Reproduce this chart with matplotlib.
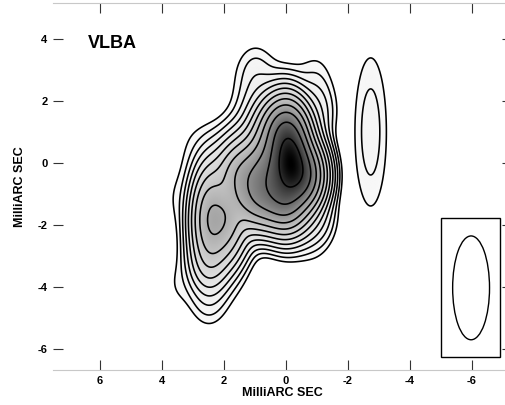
import numpy as np
import matplotlib.pyplot as plt
from matplotlib.colors import PowerNorm
from matplotlib.patches import Rectangle, Ellipse

# clean-component style model of the VLBA map (offsets in mas, flux in units of the lowest contour)
grid_x = [-1.0, -0.5, 0.0, 0.5, 1.0, 1.5, 2.0, 2.5, 3.0, 3.5]
grid_y = [3.1, 2.4, 1.7, 1.0, 0.3, -0.4, -1.1, -1.8, -2.5, -3.2, -3.9, -4.6]
grid_flux = [
    [0.57, 0.24, 0.17, 0.32, 1.7, 0.21, 0.1, 0.26, 0.15, 0.3],
    [1.5, 0.42, 0.43, 0.9, 2.0, 0.24, 0.062, 0.056, 0.056, 0.22],
    [4.5, 3.8, 29, 13, 2.6, 0.38, 0.079, 0.048, 0.063, 0.36],
    [0.89, 21, 914, 90, 6.4, 1.2, 0.31, 0.24, 0.25, 0.15],
    [0.55, 81, 472, 215, 43, 16, 3.4, 0.99, 0.51, 0.11],
    [2.3, 1170, 492, 413, 238, 154, 22, 1.2, 0.36, 0.25],
    [1.8, 56, 694, 383, 272, 54, 32, 2.1, 0.39, 0.67],
    [5.1, 12, 24, 4.1, 4.8, 18, 150, 4.1, 0.33, 0.33],
    [0.48, 0.4, 0.15, 0.085, 0.16, 1.4, 54, 9.2, 0.32, 0.13],
    [0.12, 0.064, 0.031, 0.031, 0.047, 0.22, 4.6, 24, 0.32, 0.15],
    [0.13, 0.071, 0.071, 0.1, 0.09, 0.11, 0.56, 3.3, 0.29, 0.72],
    [0.43, 0.18, 0.17, 0.19, 0.24, 0.08, 0.2, 1.5, 0.14, 0.18],
]
grid_size = (0.34, 0.50)

# compact components: core, eastern knot, isolated western knot
knot_x = [-0.15, 2.45, -2.73]
knot_y = [0.10, -1.80, 1.00]
knot_flux = [1778, 200, 2.85]
knot_sx = [0.30, 0.30, 0.35]
knot_sy = [0.55, 0.80, 1.65]

n_levels = 15  # contours at 1, 2, 4, ... x lowest level

# restoring beam (mas) and its box
beam_x, beam_y = -5.97, -4.03
beam_minor, beam_major = 1.19, 3.35
box_x = [-5.0, -6.9]
box_y = [-1.78, -6.25]

x_ticks = [6, 4, 2, 0, -2, -4, -6]
y_ticks = [4, 2, 0, -2, -4, -6]

xx = np.linspace(-7.3, 7.6, 740)
yy = np.linspace(-6.7, 5.2, 600)
X, Y = np.meshgrid(xx, yy)
Z = np.zeros_like(X)
for i, gyv in enumerate(grid_y):
    for j, gxv in enumerate(grid_x):
        Z += grid_flux[i][j] * np.exp(-0.5 * (((X - gxv) / grid_size[0]) ** 2
                                              + ((Y - gyv) / grid_size[1]) ** 2))
for kx, ky, kf, ksx, ksy in zip(knot_x, knot_y, knot_flux, knot_sx, knot_sy):
    Z += kf * np.exp(-0.5 * (((X - kx) / ksx) ** 2 + ((Y - ky) / ksy) ** 2))

levels = [2.0 ** k for k in range(n_levels)]

fig = plt.figure(figsize=(5.05, 4.05), dpi=100)
ax = fig.add_axes([53 / 505, 35 / 405, 459 / 505, 366.7 / 405])

img = np.ma.masked_less(Z, levels[0])
cmap = plt.get_cmap("gray_r").copy()
cmap.set_bad("white")
ax.imshow(img, extent=(xx[0], xx[-1], yy[0], yy[-1]), origin="lower", cmap=cmap,
          norm=PowerNorm(gamma=0.45, vmin=0, vmax=Z.max()), aspect="auto",
          interpolation="bilinear")
ax.contour(X, Y, Z, levels=levels, colors="k", linewidths=1.15)

ax.add_patch(Rectangle((box_x[0], box_y[1]), box_x[1] - box_x[0], box_y[0] - box_y[1],
                       fill=False, ec="k", lw=1.0))
ax.add_patch(Ellipse((beam_x, beam_y), beam_minor, beam_major, fill=False, ec="k", lw=1.0))

ax.text(6.39, 3.72, "VLBA", fontsize=13, fontweight="bold", family="Liberation Sans",
        ha="left", va="baseline")

ax.set_xlim(7.52, -7.29)
ax.set_ylim(-6.68, 5.15)
ax.set_xticks(x_ticks)
ax.set_yticks(y_ticks)
ax.set_xticklabels([str(v) for v in x_ticks])
ax.set_yticklabels([str(v) for v in y_ticks])
ax.tick_params(direction="in", length=7.5, width=0.8, color="#333333", labelsize=8,
               top=True, right=True, pad=4)
for lab in ax.get_xticklabels() + ax.get_yticklabels():
    lab.set_fontweight("bold")
    lab.set_family("Liberation Sans")
for side in ["left", "right"]:
    ax.spines[side].set_visible(False)
for side in ["top", "bottom"]:
    ax.spines[side].set_color("#c8c8c8")
    ax.spines[side].set_linewidth(0.8)

ax.set_xlabel("MilliARC SEC", fontsize=9, fontweight="bold", family="Liberation Sans", labelpad=1)
ax.set_ylabel("MilliARC SEC", fontsize=9, fontweight="bold", family="Liberation Sans", labelpad=8)

fig.savefig("out.png", dpi=100)
